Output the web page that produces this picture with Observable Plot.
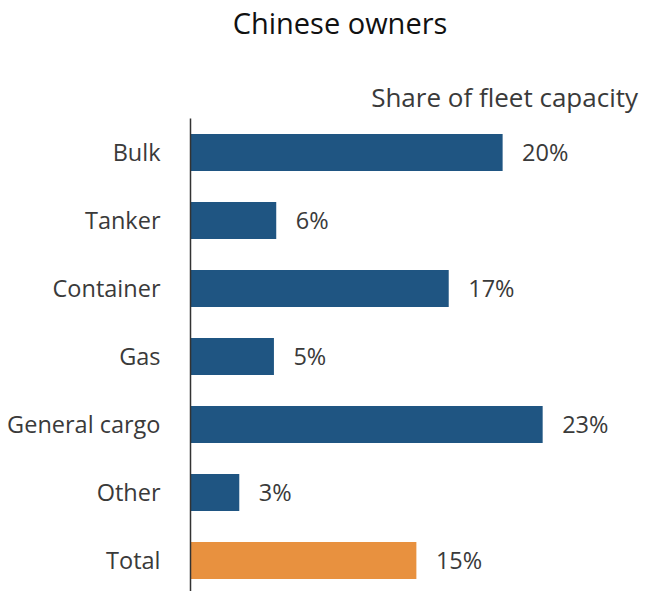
<!DOCTYPE html>
<html>
<head>
<meta charset="utf-8">
<script src="https://cdn.jsdelivr.net/npm/d3@7"></script>
<script src="https://cdn.jsdelivr.net/npm/@observablehq/plot@0.6"></script>
<style>
  html, body { margin: 0; padding: 0; background: #fff; overflow: hidden; }
  #wrap { position: relative; width: 666px; height: 591px; font-family: "Open Sans", Lato, sans-serif; }
  #title { position: absolute; top: 3px; left: 0; width: 680px; text-align: center; font-size: 29px; line-height: 40px; color: #111; }
  #subtitle { position: absolute; top: 80px; right: 28px; font-size: 26px; line-height: 34px; color: #3a3a3a; white-space: nowrap; }
  #chart { position: absolute; top: 0; left: 0; }
</style>
</head>
<body>
<div id="wrap">
  <div id="title">Chinese owners</div>
  <div id="subtitle">Share of fleet capacity</div>
  <div id="chart"></div>
</div>
<script>
const categories = ["Bulk", "Tanker", "Container", "Gas", "General cargo", "Other", "Total"];
const shares = [20.3, 5.6, 16.8, 5.45, 22.9, 3.2, 14.7];
const groups = ["type", "type", "type", "type", "type", "type", "total"];

const data = categories.map((c, i) => ({category: c, share: shares[i], group: groups[i]}));

const chart = Plot.plot({
  width: 666,
  height: 591,
  marginTop: 118.5,
  marginBottom: -4.5,
  marginLeft: 190,
  marginRight: 14,
  style: {fontFamily: "'Open Sans', Lato, sans-serif", fontSize: "23.5px", color: "#3a3a3a", background: "transparent"},
  x: {domain: [0, 30], axis: null},
  y: {domain: categories, paddingInner: 0.45, paddingOuter: 0.225, label: null, tickSize: 0, tickPadding: 30},
  color: {domain: ["type", "total"], range: ["#1f5582", "#e8913f"]},
  marks: [
    Plot.barX(data, {x: "share", y: "category", fill: "group"}),
    Plot.ruleX([0], {stroke: "#333", strokeWidth: 1.5}),
    Plot.text(data, {x: "share", y: "category", text: d => Math.round(d.share) + "%", textAnchor: "start", dx: 19, fill: "#3a3a3a", fontSize: 23.5}),
    Plot.axisY({tickSize: 0, tickPadding: 30, label: null, fontSize: 23.5, fill: "#3a3a3a"})
  ]
});
document.getElementById("chart").appendChild(chart);
</script>
</body>
</html>
